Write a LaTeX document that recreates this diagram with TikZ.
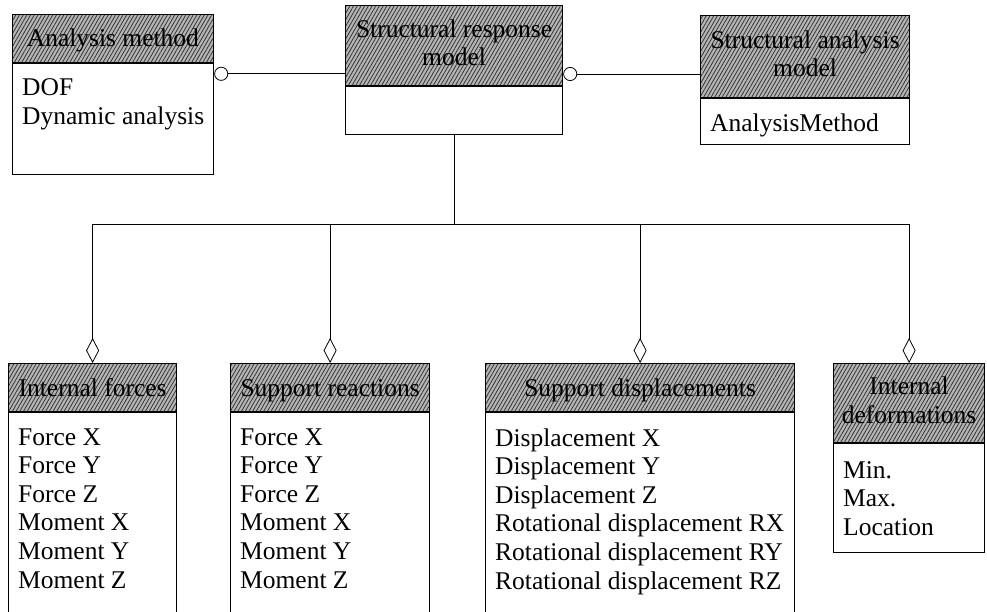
\documentclass[tikz,border=0pt]{standalone}
\usepackage{fontspec}
\setmainfont{Liberation Serif}
\usetikzlibrary{patterns.meta,arrows.meta,calc}
\newcommand\headline{\rule[-0.22em]{0pt}{1.1em}}
\begin{document}
\begin{tikzpicture}[x=1pt,y=-1pt,
  txt/.style={font=\fontsize{25.5}{28.6}\selectfont},
  classhead/.style={draw, line width=1.2pt, anchor=north west, inner sep=0pt,
    align=center, txt, execute at begin node=\headline, execute at end node=\headline,
    preaction={fill=gray!58},
    pattern={Lines[angle=60,distance=3.2pt,line width=0.8pt]}, pattern color=black!80},
  classbody/.style={draw, line width=1.2pt, anchor=north west, inner sep=0pt, fill=white},
  itemlist/.style={anchor=north west, inner sep=0pt, align=left, txt},
  conn/.style={line width=0.8pt},
  circtip/.style={arrows={Circle[open,length=14pt,width=14pt]-}},
  diamtip/.style={arrows={-Diamond[open,length=25pt,width=13pt]}},
]
\useasboundingbox (0,0) rectangle (987,612);
\clip (0,0) rectangle (987,612);

% upper row of classes
\node[classhead, minimum width=201pt, minimum height=48pt] (amh) at (12,14) {Analysis method};
\node[classbody, minimum width=201pt, minimum height=111pt] (amb) at (amh.south west) {};
\node[itemlist] (amt) at ($(amb.north west)+(10,16)$) {DOF\\Dynamic analysis};

\node[classhead, minimum width=217pt, minimum height=80pt] (srh) at (345,5) {Structural response\\model};
\node[classbody, minimum width=217pt, minimum height=48pt] (srb) at (srh.south west) {};

\node[classhead, minimum width=209pt, minimum height=82pt] (sah) at (700,15) {Structural analysis\\model};
\node[classbody, minimum width=209pt, minimum height=46pt] (sab) at (sah.south west) {};
\node[itemlist] (sat) at ($(sab.north west)+(10,15)$) {AnalysisMethod};

% lower row of classes
\node[classhead, minimum width=168pt, minimum height=48pt] (ifh) at (8,363) {Internal forces};
\node[classbody, minimum width=168pt, minimum height=280pt] (ifb) at (ifh.south west) {};
\node[itemlist] (ift) at ($(ifb.north west)+(10,16)$)
  {Force X\\Force Y\\Force Z\\Moment X\\Moment Y\\Moment Z};

\node[classhead, minimum width=199pt, minimum height=48pt] (rch) at (230,363) {Support reactions};
\node[classbody, minimum width=199pt, minimum height=280pt] (rcb) at (rch.south west) {};
\node[itemlist] (rct) at ($(rcb.north west)+(10,16)$)
  {Force X\\Force Y\\Force Z\\Moment X\\Moment Y\\Moment Z};

\node[classhead, minimum width=309pt, minimum height=48pt] (sdh) at (485,363) {Support displacements};
\node[classbody, minimum width=309pt, minimum height=280pt] (sdb) at (sdh.south west) {};
\node[itemlist] (sdt) at ($(sdb.north west)+(10,16)$)
  {Displacement X\\Displacement Y\\Displacement Z\\Rotational displacement RX\\Rotational displacement RY\\Rotational displacement RZ};

\node[classhead, minimum width=151pt, minimum height=79pt] (idh) at (833,363) {Internal\\deformations};
\node[classbody, minimum width=151pt, minimum height=109pt] (idb) at (idh.south west) {};
\node[itemlist] (idt) at ($(idb.north west)+(10,18)$) {Min.\\Max.\\Location};

% associations of the response model
\coordinate (c1) at ($(amb.north east)+(0,11)$);
\draw[conn, circtip] (c1) -- (c1 -| srh.west);
\coordinate (c2) at ($(srh.north east)+(0,69)$);
\draw[conn, circtip] (c2) -- (c2 -| sah.west);

% aggregation tree
\coordinate (bus) at ($(srb.south)+(0,89)$);
\draw[conn] (srb.south) -- (bus);
\draw[conn] (bus -| ifh.north) -- (bus -| idh.north);
\draw[conn, diamtip] (bus -| ifh.north) -- (ifh.north);
\draw[conn, diamtip] (bus -| rch.north) -- (rch.north);
\draw[conn, diamtip] (bus -| sdh.north) -- (sdh.north);
\draw[conn, diamtip] (bus -| idh.north) -- (idh.north);
\end{tikzpicture}
\end{document}
